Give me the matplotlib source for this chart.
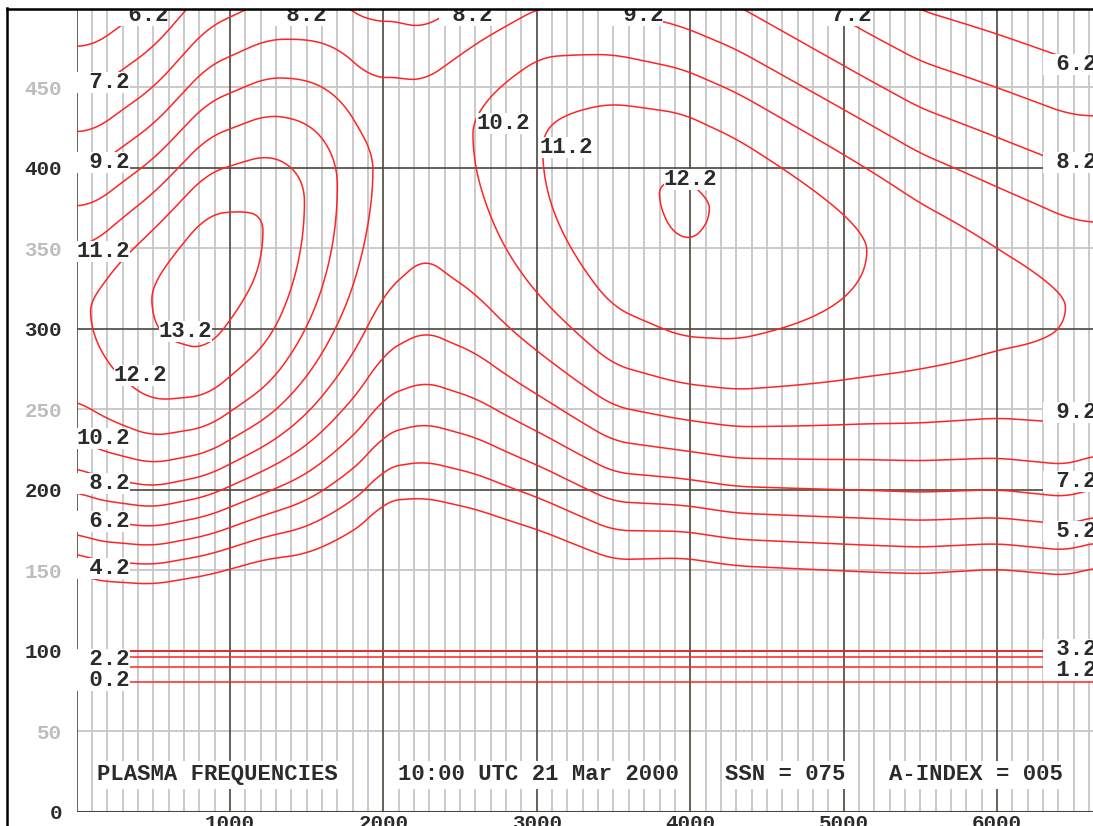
import numpy as np
import matplotlib
matplotlib.use("Agg")
import matplotlib.pyplot as plt
from matplotlib.lines import Line2D

# ---------------- data ----------------
levels = [0.2, 1.2, 2.2, 3.2, 4.2, 5.2, 6.2, 7.2, 8.2, 9.2, 10.2, 11.2, 12.2, 13.2]

# F-layer profile parameters, per ground distance (km)
col_km   = [0,     110,  500,   850,  1240, 1490, 1700, 1910, 2000, 2270, 2607,  3030, 3500, 3950, 4300, 5150, 5500,  6000,  6460, 6626]
foF2     = [12.05, 12.2, 13.25, 13.8, 13.2, 12.2, 11.2, 10.2, 10.0, 9.72, 10.22, 11.2, 12.0, 12.3, 12.1, 11.2, 10.85, 10.45, 10.2, 10.05]
hmF2     = [312,   310,  318,   338,  362,  380,  390,  395,  405,  419,  422,   413,  393,  380,  370,  349,  338,   325,   312,  314]
h_bottom = [83,    84,   87,    93,   101,  111,  115,  115,  115,  123,  126,   124,  120,  112,  110,  104,  100,   93,    89,   88]
h_top    = [45,    45,   46,    49,   50,   50,   53,   56,   55,   47,   51,    55,   55,   53,   53,   50,   50,    52,    53,   53]

# E layer and valley (height km -> MHz)
e_height = [70,  81,  90,  96,  100, 106]
e_freq   = [0.0, 0.2, 1.2, 2.2, 3.2, 3.6]

x_ticks = [1000, 2000, 3000, 4000, 5000, 6000]
y_ticks = [0, 50, 100, 150, 200, 250, 300, 350, 400, 450]
info_texts = ["PLASMA FREQUENCIES", "10:00 UTC 21 Mar 2000", "SSN = 075", "A-INDEX = 005"]

# ---------------- figure ----------------
W, Hpx = 1093, 826
XMAX, YMAX = 6626.0, 498.3
fig = plt.figure(figsize=(W / 100, Hpx / 100), dpi=100)
fig.patch.set_facecolor("white")
ax = fig.add_axes([76.6 / W, (Hpx - 811.7) / Hpx, (W - 76.6) / W, (811.7 - 9.5) / Hpx])
ax.set_xlim(0, XMAX)
ax.set_ylim(0, YMAX)
ax.set_facecolor("white")
for s in ax.spines.values():
    s.set_visible(False)

LIGHT = "#c6c6c6"
DARK = "#4d473c"
TXT = "#2b2b2b"
FONT = dict(family="Liberation Mono", weight="bold")

# grid
for xv in range(100, 6700, 100):
    if xv % 1000:
        ax.axvline(xv, color=LIGHT, lw=1.3, zorder=1)
for xv in range(0, 7000, 1000):
    ax.axvline(xv, color=DARK, lw=1.2, zorder=1.5)
for yv in range(50, 500, 100):
    ax.axhline(yv, color=LIGHT, lw=1.3, zorder=1)
for yv in range(100, 500, 100):
    ax.axhline(yv, color=DARK, lw=1.2, zorder=1.5)
ax.axhline(0, color=DARK, lw=1.5, zorder=1.5)

# field
xg = np.linspace(0, XMAX, 400)
hg = np.linspace(0, YMAX, 320)


def smooth(v, n=6):
    p = np.pad(v, n, mode="edge")
    k = np.ones(2 * n + 1) / (2 * n + 1)
    return np.convolve(p, k, mode="same")[n:-n]


fc = smooth(np.interp(xg, col_km, foF2))
hm = smooth(np.interp(xg, col_km, hmF2))
hb = smooth(np.interp(xg, col_km, h_bottom))
ht = smooth(np.interp(xg, col_km, h_top))
X, Hh = np.meshgrid(xg, hg)
z = np.where(Hh < hm, (Hh - hm) / hb, (Hh - hm) / ht)
F = fc * np.exp(0.25 * (1 - z - np.exp(-z)))
E = np.interp(hg, e_height, e_freq)[:, None] * np.ones_like(X)
Z = np.where(Hh >= e_height[-1], np.maximum(F, E), E)

ax.contour(X, Hh, Z, levels=levels, colors="#ff2424", linewidths=1.1, zorder=3)

# contour labels (as in the original, horizontal with white background)
BOX = dict(boxstyle="square,pad=0", fc="white", ec="none")
label_spots = [
    # value, x, y, ha
    (7.2, 348, 453, "right"), (9.2, 348, 403, "right"), (11.2, 348, 348, "right"),
    (10.2, 348, 232, "right"), (8.2, 348, 204, "right"), (6.2, 348, 180, "right"),
    (4.2, 348, 151, "right"), (2.2, 348, 94.5, "right"), (0.2, 348, 81.5, "right"),
    (12.2, 590, 271, "right"), (13.2, 883, 298, "right"),
    (6.2, 596, 494.5, "right"), (8.2, 1626, 494.5, "right"), (8.2, 2714, 494.5, "right"),
    (9.2, 3823, 494.5, "right"), (7.2, 5185, 494.5, "right"),
    (10.2, 2955, 427.6, "right"), (11.2, 3366, 412.8, "right"), (12.2, 4175, 392.4, "right"),
    (6.2, 6300, 464, "left"), (8.2, 6300, 403, "left"), (9.2, 6300, 248, "left"),
    (7.2, 6300, 205, "left"), (5.2, 6300, 174, "left"), (3.2, 6300, 101, "left"),
    (1.2, 6300, 88, "left"),
]
for v, xx, yy, ha in label_spots:
    ax.text(xx, yy, f"{v:4.1f}", ha=ha, va="center", fontsize=16, color=TXT,
            bbox=BOX, zorder=5, clip_on=True, **FONT)

# info line at the bottom
info_x = [134, 2095, 4226, 5295]
for t, xx in zip(info_texts, info_x):
    ax.text(xx, 22.8, t, ha="left", va="center", fontsize=16, color=TXT,
            bbox=dict(boxstyle="square,pad=0.15", fc="white", ec="none"), zorder=5, **FONT)

# ticks
ax.set_xticks(x_ticks)
ax.set_xticklabels([str(v) for v in x_ticks], fontsize=15, color=TXT, **FONT)
ax.set_yticks(y_ticks)
ax.set_yticklabels([str(v) for v in y_ticks], fontsize=15, **FONT)
for v, lab in zip(y_ticks, ax.get_yticklabels()):
    lab.set_color(TXT if v % 100 == 0 else "#bdbdbd")
ax.tick_params(axis="both", length=0)
ax.tick_params(axis="y", pad=10.5)
ax.tick_params(axis="x", pad=2)

# window frame (left and top black edges)
fig.add_artist(Line2D([6.5 / W, 6.5 / W], [0, 1 - 8 / Hpx], color="black", lw=1.8))
fig.add_artist(Line2D([6.5 / W, 1], [1 - 9 / Hpx, 1 - 9 / Hpx], color="black", lw=1.8))

fig.savefig("out.png", dpi=100, facecolor="white")
